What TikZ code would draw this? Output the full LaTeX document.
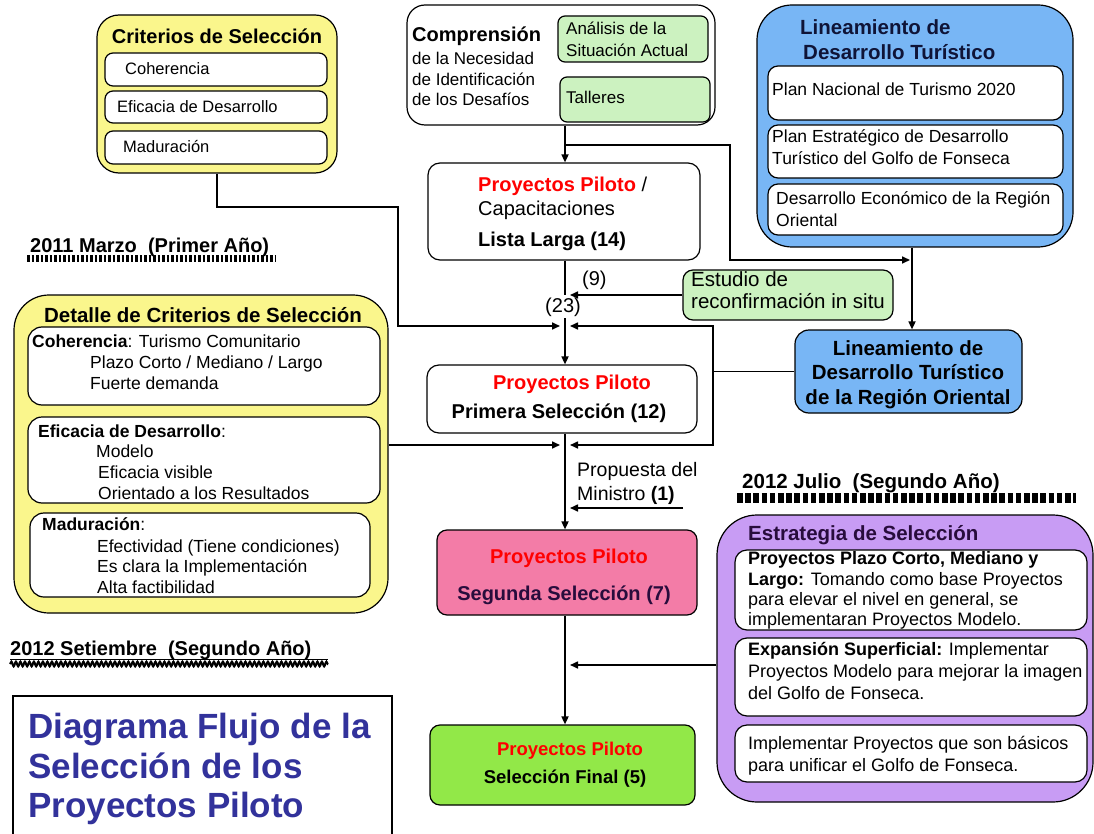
\documentclass[tikz,border=0pt]{standalone}
\usepackage{fontspec}
\setmainfont{Liberation Sans}
\usetikzlibrary{arrows.meta,decorations.pathmorphing,calc}
\newcommand\myfs[1]{\fontsize{#1}{#1}\selectfont}
\definecolor{yel}{RGB}{250,246,140}
\definecolor{blu}{RGB}{120,182,245}
\definecolor{grn}{RGB}{204,242,192}
\definecolor{pnk}{RGB}{243,124,167}
\definecolor{lime}{RGB}{146,232,72}
\definecolor{purp}{RGB}{200,156,244}
\definecolor{navy}{RGB}{50,50,155}
\definecolor{ptitle}{RGB}{40,12,60}
\definecolor{btitle}{RGB}{15,20,55}
\begin{document}
\begin{tikzpicture}[x=1pt,y=-1pt,
  bx/.style n args={3}{draw=black, line width=1.2pt, rounded corners=#3, inner sep=0pt, minimum width=#1, minimum height=#2},
  tx/.style={anchor=base west, inner sep=0pt, font=\myfs{#1}},
  tc/.style={anchor=base, inner sep=0pt, font=\myfs{#1}},
  ln/.style={draw, line width=1.6pt},
  arr/.style={draw, line width=1.6pt, -{Triangle[length=8pt,width=7pt]}}]
\fill[white] (0,0) rectangle (1094,834);
\useasboundingbox (0,0) rectangle (1094,834);

% ---------- Criterios de Seleccion
\node[bx={240}{158}{22}, fill=yel] (crit) at (217,94) {};
\node[bx={222}{33}{8}, fill=white] (crit1) at (216,69.5) {};
\node[bx={222}{32}{8}, fill=white] (crit2) at (216,107) {};
\node[bx={222}{33}{8}, fill=white] (crit3) at (216,147.5) {};
\node[tc=20] (critT) at (217,44) {\bfseries Criterios de Selección};
\node[tx=16.5] (c1t) at (125,75) {Coherencia};
\node[tx=16.5] (c2t) at (117,113) {Eficacia de Desarrollo};
\node[tx=16.5] (c3t) at (123,153) {Maduración};

% ---------- Comprension
\node[bx={308}{120}{18}, fill=white] (comp) at (561,65) {};
\node[bx={150}{46}{7}, fill=grn] (ana) at (633,39) {};
\node[bx={150}{45}{7}, fill=grn] (tal) at (635,99.5) {};
\node[tx=20] (compT) at (412,42) {\bfseries Comprensión};
\node[tx=17] (comp2) at (412,65) {de la Necesidad};
\node[tx=17] (comp3) at (412,86) {de Identificación};
\node[tx=17] (comp4) at (412,106) {de los Desafíos};
\node[tx=17] (anaT1) at (566,35) {Análisis de la};
\node[tx=17] (anaT2) at (566,57) {Situación Actual};
\node[tx=17] (talT) at (566,104) {Talleres};

% ---------- Lineamiento de Desarrollo Turistico
\node[bx={316}{242}{35}, fill=blu] (lin) at (915,126) {};
\node[bx={295}{54}{10}, fill=white] (lin1) at (915.5,93) {};
\node[bx={295}{53}{10}, fill=white] (lin2) at (915.5,151.5) {};
\node[bx={295}{51}{10}, fill=white] (lin3) at (915.5,209.5) {};
\node[tx=20.5, text=btitle] (linT1) at (800,35) {\bfseries Lineamiento de};
\node[tx=20.5, text=btitle] (linT2) at (803,60) {\bfseries Desarrollo Turístico};
\node[tx=17.5] (lin1t) at (772,96) {Plan Nacional de Turismo 2020};
\node[tx=17.5] (lin2a) at (772,143) {Plan Estratégico de Desarrollo};
\node[tx=17.5] (lin2b) at (772,165) {Turístico del Golfo de Fonseca};
\node[tx=17.5] (lin3a) at (776,205) {Desarrollo Económico de la Región};
\node[tx=17.5] (lin3b) at (776,227) {Oriental};

% ---------- Lista Larga
\node[bx={272}{97}{12}, fill=white] (lista) at (564,211.5) {};
\node[tx=20] (lis1) at (478,192) {{\bfseries\color{red}Proyectos Piloto} /};
\node[tx=20] (lis2) at (478,216) {Capacitaciones};
\node[tx=20] (lis3) at (478,247) {\bfseries Lista Larga (14)};

\node[tx=20] (n9) at (582,285) {(9)};
\node[tc=20] (n23) at (563,312) {(23)};

% ---------- Estudio
\node[bx={210}{50}{10}, fill=grn] (est) at (788,295) {};
\node[tx=20.5] (estT1) at (691,287) {Estudio de};
\node[tx=20.5] (estT2) at (691,308) {reconfirmación in situ};

% ---------- Lineamiento Region Oriental
\node[bx={227}{83}{14}, fill=blu] (reg) at (908.5,371.5) {};
\node[tc=20.5] (regT1) at (908,355) {\bfseries Lineamiento de};
\node[tc=20.5] (regT2) at (908,379) {\bfseries Desarrollo Turístico};
\node[tc=20.5] (regT3) at (908,404) {\bfseries de la Región Oriental};

% ---------- Primera Seleccion
\node[bx={270}{68}{12}, fill=white] (prim) at (562,399) {};
\node[tc=20, text=red] (pri1) at (572,389) {\bfseries Proyectos Piloto};
\node[tc=20] (pri2) at (559,418) {\bfseries Primera Selección (12)};

\node[tx=19.5] (prop1) at (577,476) {Propuesta del};
\node[tx=19.5] (prop2) at (577,500) {Ministro {\bfseries (1)}};

% ---------- Segunda Seleccion
\node[bx={260}{85}{10}, fill=pnk] (seg) at (567,572.5) {};
\node[tc=20, text=red] (seg1) at (569,563) {\bfseries Proyectos Piloto};
\node[tc=20, text=ptitle] (seg2) at (564,600) {\bfseries Segunda Selección (7)};

% ---------- Seleccion Final
\node[bx={265}{80}{10}, fill=lime] (fin) at (562.5,765) {};
\node[tc=18.5, text=red] (fin1) at (570,755) {\bfseries Proyectos Piloto};
\node[tc=18.5] (fin2) at (565,783) {\bfseries Selección Final (5)};

% ---------- Detalle de Criterios
\node[bx={374}{318}{35}, fill=yel] (det) at (201,454) {};
\node[bx={352}{78}{14}, fill=white] (det1) at (204,366) {};
\node[bx={352}{86}{14}, fill=white] (det2) at (204,460) {};
\node[bx={340}{84}{14}, fill=white] (det3) at (200,555) {};
\node[tc=20.5] (detT) at (203,322) {\bfseries Detalle de Criterios de Selección};
\node[tx=17.5] (d1a) at (32,347) {{\bfseries Coherencia}: Turismo Comunitario};
\node[tx=17.5] (d1b) at (90,368) {Plazo Corto / Mediano / Largo};
\node[tx=17.5] (d1c) at (90,389) {Fuerte demanda};
\node[tx=17.5] (d2a) at (38,437) {{\bfseries Eficacia de Desarrollo}:};
\node[tx=17.5] (d2b) at (96,457) {Modelo};
\node[tx=17.5] (d2c) at (98,478) {Eficacia visible};
\node[tx=17.5] (d2d) at (98,499) {Orientado a los Resultados};
\node[tx=17.5] (d3a) at (42,530) {{\bfseries Maduración}:};
\node[tx=17.5] (d3b) at (97,552) {Efectividad (Tiene condiciones)};
\node[tx=17.5] (d3c) at (97,572) {Es clara la Implementación};
\node[tx=17.5] (d3d) at (97,593) {Alta factibilidad};

% ---------- Estrategia de Seleccion
\node[bx={376}{287}{40}, fill=purp] (estr) at (905,658.5) {};
\node[bx={352}{80}{12}, fill=white] (estr1) at (911,590) {};
\node[bx={352}{78}{12}, fill=white] (estr2) at (911,677) {};
\node[bx={352}{57}{12}, fill=white] (estr3) at (911,753.5) {};
\node[tx=20.5, text=ptitle] (estrT) at (748,540) {\bfseries Estrategia de Selección};
\node[tx=18] (e1a) at (748,564) {\bfseries Proyectos Plazo Corto, Mediano y};
\node[tx=18] (e1b) at (748,585) {{\bfseries Largo:} Tomando como base Proyectos};
\node[tx=18] (e1c) at (748,605) {para elevar el nivel en general, se};
\node[tx=18] (e1d) at (748,625) {implementaran Proyectos Modelo.};
\node[tx=18] (e2a) at (748,655) {{\bfseries Expansión Superficial:} Implementar};
\node[tx=18] (e2b) at (748,677) {Proyectos Modelo para mejorar la imagen};
\node[tx=18] (e2c) at (748,699) {del Golfo de Fonseca.};
\node[tx=18] (e3a) at (748,749) {Implementar Proyectos que son básicos};
\node[tx=18] (e3b) at (748,771) {para unificar el Golfo de Fonseca.};

% ---------- dates
\node[tx=20] (date1) at (30,252) {\bfseries 2011 Marzo\ \ (Primer Año)};
\draw[line width=7pt, dash pattern=on 2.6pt off 1.9pt] (27,258.5) -- (276,258.5);
\node[tx=20.5] (date2) at (742,488) {\bfseries 2012 Julio\ \ (Segundo Año)};
\draw[line width=10pt, dash pattern=on 5.6pt off 2.6pt] (737,498) -- (1076,498);
\node[tx=20] (date3) at (10,655) {\bfseries 2012 Setiembre\ \ (Segundo Año)};
\draw[line width=1pt] (10,659) -- (328,659);
\draw[line width=2pt, decorate, decoration={snake, amplitude=2.4pt, segment length=4.5pt}] (10,664) -- (328,664);

% ---------- title
\draw[line width=1.2pt] (13,840) -- (13,696) -- (392,696) -- (392,840);
\node[tx=35, text=navy] (tit1) at (28,738) {\bfseries Diagrama Flujo de la};
\node[tx=35, text=navy] (tit2) at (28,778) {\bfseries Selección de los};
\node[tx=35, text=navy] (tit3) at (28,817) {\bfseries Proyectos Piloto};

% ---------- connectors
\coordinate (colM) at (565,0);
\coordinate (colB) at (713,0);
\coordinate (colR) at (912,0);
\coordinate (jA) at (565,326);
\coordinate (jB) at (565,445);
\coordinate (jC) at (565,508);
\coordinate (jD) at (565,665);
\coordinate (kC) at (730,145);
\coordinate (kR) at (912,260);
\coordinate (kL) at (398,207);
\coordinate (minE) at (683,508);
\coordinate (a23) at ($(n23.north -| colM)+(0,-2)$);
\coordinate (b23) at ($(n23.south -| colM)+(0,2)$);

\draw[arr] (comp.south -| colM) -- (lista.north -| colM);
\draw[arr] (colM |- kC) -| ($(kR)+(-182,0)$) -- ($(kR)+(-2,0)$);
\draw[arr] (lin.south -| colR) -- (reg.north -| colR);
\draw[ln] (lista.south -| colM) -- (a23);
\draw[arr] (b23) -- (prim.north -| colM);
\draw[arr] (est.west) -- ($(est.west -| colM)+(5,0)$);
\draw[arr] (crit.south) |- (kL) |- ($(jA)+(-5,0)$);
\draw[ln] (reg.west) -- (reg.west -| colB);
\draw[arr] (reg.west -| colB) |- ($(jA)+(5,0)$);
\draw[arr] (reg.west -| colB) |- ($(jB)+(5,0)$);
\draw[arr] (det.east |- jB) -- ($(jB)+(-5,0)$);
\draw[arr] (prim.south -| colM) -- (seg.north -| colM);
\draw[arr] (minE) -- ($(jC)+(5,0)$);
\draw[arr] (seg.south -| colM) -- (fin.north -| colM);
\draw[arr] (estr.west |- jD) -- ($(jD)+(5,0)$);
\end{tikzpicture}
\end{document}
